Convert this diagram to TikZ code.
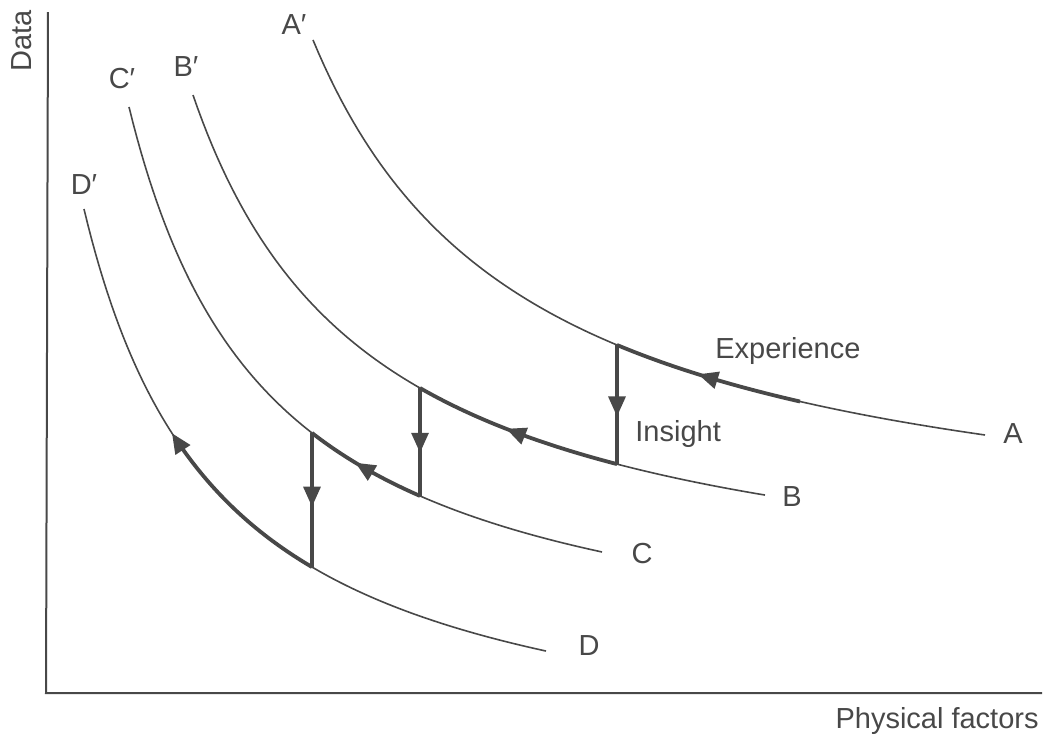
\documentclass[tikz,border=0pt]{standalone}
\usepackage{fontspec}
\setmainfont{Liberation Sans}
\usetikzlibrary{arrows.meta,decorations.markings}
\definecolor{ink}{RGB}{72,72,72}
\begin{document}
\begin{tikzpicture}[x=0.5pt,y=-0.5pt,
  declare function={
    fa(\x)=562.3-1131.35*(100/(\x-96.4));
    fb(\x)=621.6-952.81*(100/(\x-12.05));
    fc(\x)=685.2-818.79*(100/(\x+12.6));
    fd(\x)=782-784.39*(100/(\x+52.9));
  },
  curve/.style={draw=ink,line width=0.8pt},
  heavy/.style={draw=ink,line width=1.9pt},
  axis/.style={draw=ink,line width=1pt},
  lbl/.style={text=ink,inner sep=0pt,font=\fontsize{14.5}{17}\selectfont},
  tri/.style={-{Triangle[length=10pt,width=8.5pt]}},
  midarrow/.style={postaction={decorate},decoration={markings,
     mark=at position #1 with {\arrow[ink]{Triangle[length=10pt,width=8.5pt]}}}}
]
\useasboundingbox (0,0) rectangle (1045,740);
% axes
\coordinate (origin) at (46,693);
\coordinate (ytop) at (48,12);
\coordinate (xend) at (1042,693);
\draw[axis] (ytop) -- (origin) -- (xend);
\node[lbl,rotate=90] (ylab) at (22,41) {Data};
\node[lbl,anchor=base east] (xlab) at (1039,728) {Physical factors};
% thin curves
\draw[curve] plot[domain=313:985,samples=120] (\x,{fa(\x)});
\draw[curve] plot[domain=193:765,samples=120] (\x,{fb(\x)});
\draw[curve] plot[domain=129:602,samples=120] (\x,{fc(\x)});
\draw[curve] plot[domain=84:546,samples=120] (\x,{fd(\x)});
% curve labels
\node[lbl] (A) at (1013,434) {A};
\node[lbl] (B) at (792,497) {B};
\node[lbl] (C) at (642,554) {C};
\node[lbl] (D) at (589,646) {D};
\node[lbl] (Ap) at (294,25) {A′};
\node[lbl] (Bp) at (186,67) {B′};
\node[lbl] (Cp) at (122,79) {C′};
\node[lbl] (Dp) at (84,185) {D′};
% step points
\coordinate (a1) at (617,{fa(617)});
\coordinate (b1) at (617,{fb(617)});
\coordinate (b2) at (420,{fb(420)});
\coordinate (c2) at (420,{fc(420)});
\coordinate (c3) at (312,{fc(312)});
\coordinate (d3) at (312,{fd(312)});
% heavy path segments
\draw[heavy,midarrow=0.55] plot[domain=800:617,samples=60] (\x,{fa(\x)});
\draw[heavy,line width=1.6pt,midarrow=0.6] (a1) -- (b1);
\draw[heavy,midarrow=0.55] plot[domain=617:420,samples=60] (\x,{fb(\x)});
\draw[heavy,line width=1.6pt,midarrow=0.6] (b2) -- (c2);
\draw[heavy,midarrow=0.58] plot[domain=420:312,samples=60] (\x,{fc(\x)});
\draw[heavy,line width=1.6pt,midarrow=0.55] (c3) -- (d3);
\draw[heavy,tri] plot[domain=312:172,samples=60] (\x,{fd(\x)});
% annotations
\node[lbl,anchor=base west] (exp) at (715,358) {Experience};
\node[lbl,anchor=base west] (ins) at (635,441) {Insight};
\end{tikzpicture}
\end{document}
